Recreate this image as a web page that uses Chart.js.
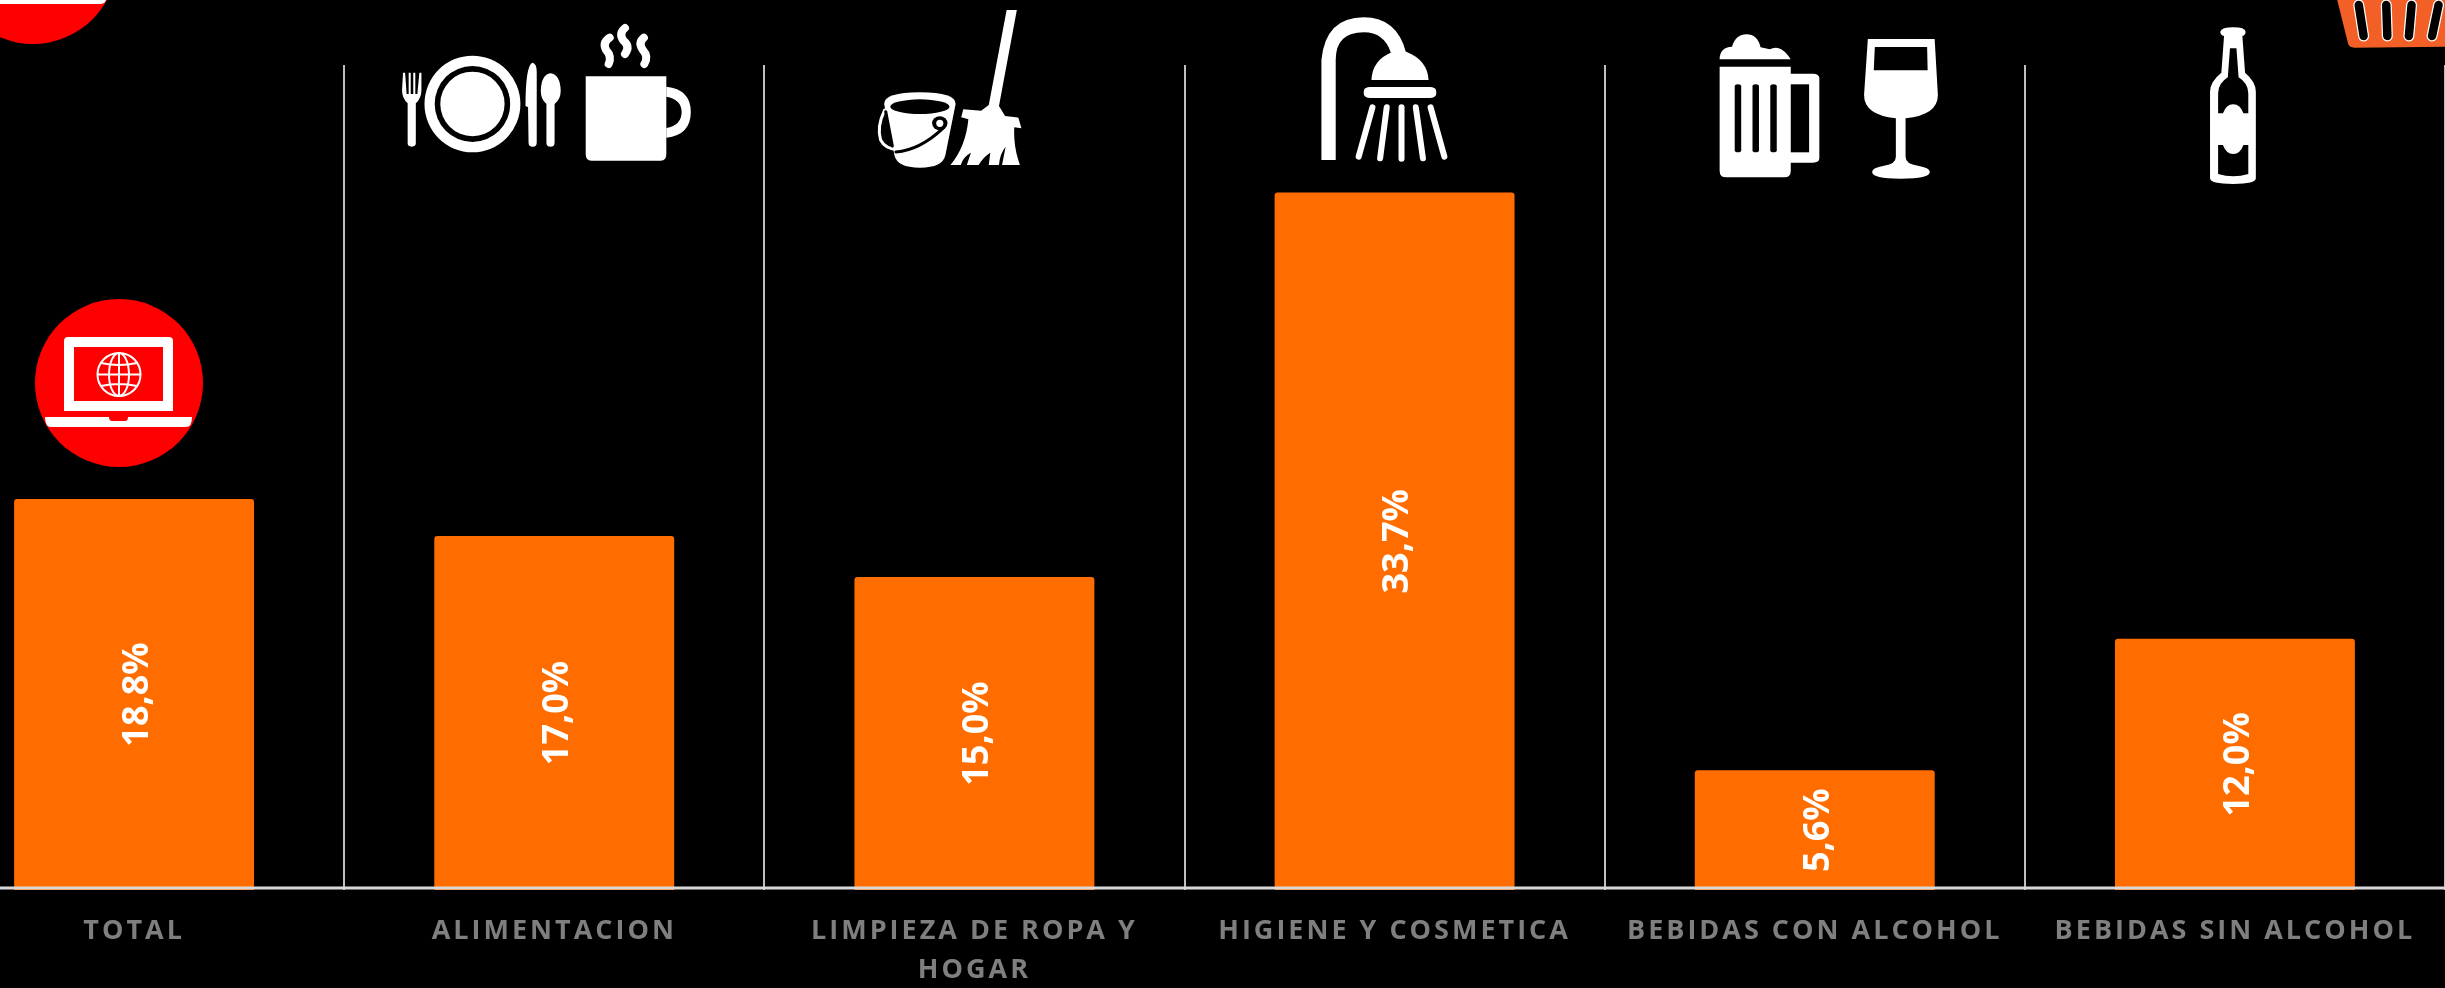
<!DOCTYPE html>
<html>
<head>
<meta charset="utf-8">
<title>Chart</title>
<script src="https://cdn.jsdelivr.net/npm/chart.js@4"></script>
<style>
  html, body { margin: 0; padding: 0; background: #000; width: 2445px; height: 988px; overflow: hidden; }
  #mycanvas { position: absolute; left: -76px; top: 0; }
  #icons { position: absolute; left: 0; top: 0; }
  #icons .line { fill: none; stroke-linecap: round; vector-effect: non-scaling-stroke; }
</style>
</head>
<body>
<canvas id="mycanvas" width="2521" height="988"></canvas>

<!-- decoration only, coordinates are taken from the zoomed crops -->
<svg id="icons" width="2445" height="988" xmlns="http://www.w3.org/2000/svg">
  <!-- red laptop badges -->
  <circle cx="33" cy="-40" r="84" fill="#ff0000"/>
  <path d="M-30 0H106Q105 4 100 4H-30Z" fill="#fff"/>
  <circle cx="119" cy="383" r="84" fill="#ff0000"/>
  <path fill-rule="evenodd" fill="#fff" d="M68 337H169Q173 337 173 341V411H64V341Q64 337 68 337ZM74 347V401H163V347Z"/>
  <path fill="#fff" d="M45 417H109Q109 421 112 421H125Q128 421 128 417H192Q192 427 186 427H51Q45 427 45 417Z"/>
  <g fill="none" stroke="#fff" stroke-width="2">
    <circle cx="119" cy="374.5" r="21.5"/>
    <ellipse cx="119" cy="374.5" rx="10" ry="21.5"/>
    <path d="M119 353V396M97.500 374.500H140.500M101 363Q119 367 137 363M101 386Q119 382 137 386"/>
  </g>

  <!-- cutlery and mug -->
  <g transform="scale(.5102 .3333)" fill="#fff">
    <path d="M790 218H794L797 282H801V218H805V282H810V218H814V282H818L822 218H826V270Q826 295 815 310L815 430Q815 440 807 440Q799 440 799 430L799 310Q788 295 788 270Z"/>
    <path fill-rule="evenodd" d="M926 167A94 145 0 1 1 926 457A94 145 0 1 1 926 167ZM926 198A74 114 0 1 0 926 426A74 114 0 1 0 926 198Z"/>
    <ellipse cx="926" cy="312" rx="63" ry="97"/>
    <path d="M1043 188Q1052 190 1052 215V428Q1052 440 1044 440Q1036 440 1036 428L1035 322L1030 318Q1030 200 1043 188Z"/>
    <path d="M1079 220Q1098 224 1099 272Q1099 298 1087 312V428Q1087 440 1079 440Q1071 440 1071 428V312Q1060 298 1060 272Q1061 224 1079 220Z"/>
    <path d="M1148 229H1306V462Q1306 482 1295 482H1159Q1148 482 1148 462Z"/>
    <path fill-rule="evenodd" d="M1306 260Q1354 268 1354 336Q1354 405 1306 413V384Q1336 376 1336 336Q1336 298 1306 290Z"/>
  </g>
  <g transform="scale(.5102 .3333)" stroke="#fff">
    <path class="line" stroke-width="8" d="M1195 113Q1180 128 1188 150Q1200 170 1193 192"/>
    <path class="line" stroke-width="8" d="M1225 84Q1212 100 1222 122Q1236 140 1225 162"/>
    <path class="line" stroke-width="8" d="M1262 113Q1250 128 1260 150Q1272 170 1263 192"/>
  </g>

  <!-- bucket and mop -->
  <g transform="translate(800,0) scale(.5102 .3333)">
    <path fill="#fff" d="M405 30H425L390 318L402 348L428 353L434 385L420 382Q418 440 431 495H396L403 440Q392 460 390 495H370L373 458Q360 470 350 495H327L335 458Q320 470 315 495H295Q325 440 330 358L316 352L320 328L355 332L370 315Z"/>
    <path fill="#fff" d="M165 312Q165 277 235 277Q305 277 305 312L285 465Q280 503 235 503Q190 503 185 465Z"/>
    <ellipse cx="235" cy="320" rx="58" ry="22" fill="#000"/>
    <path class="line" stroke="#fff" stroke-width="3" d="M166 330Q150 380 158 420Q168 450 195 448"/>
    <path class="line" stroke="#000" stroke-width="3" d="M168 335L181 438"/>
    <path class="line" stroke="#000" stroke-width="3" d="M188 456Q235 450 280 385"/>
    <ellipse cx="274" cy="370" rx="15" ry="21" fill="#000"/>
    <ellipse cx="274" cy="370" rx="7" ry="11" fill="#fff"/>
  </g>

  <!-- shower, crop 2 starts at x=800 -->
  <g transform="translate(800,0) scale(.5102 .3333)" fill="#fff">
    <path d="M1022 480V180Q1030 52 1105 52Q1170 52 1188 158L1158 158Q1145 97 1105 97Q1050 97 1050 180V480Z"/>
    <path d="M1120 240Q1122 180 1160 157L1174 152L1188 155Q1230 180 1232 240Z"/>
    <rect x="1105" y="261" width="142" height="33" rx="12" ry="12"/>
    <g stroke="#fff">
      <path class="line" stroke-width="6" d="M1122 322L1095 470"/>
      <path class="line" stroke-width="6" d="M1150 322L1137 475"/>
      <path class="line" stroke-width="6" d="M1179 322L1179 476"/>
      <path class="line" stroke-width="6" d="M1207 322L1221 475"/>
      <path class="line" stroke-width="6" d="M1236 322L1263 470"/>
    </g>
  </g>

  <!-- beer, wine, bottle, basket -->
  <g transform="translate(1600,0) scale(.5389 .3333)" fill="#fff">
    <path d="M222 178Q222 142 245 140Q252 103 272 103Q292 103 298 142L315 148Q335 130 354 178Z"/>
    <path d="M222 200H354V221H395Q407 221 407 235V475Q407 488 395 488H354V512Q354 532 342 532H234Q222 532 222 512Z"/>
    <g fill="#000">
      <rect x="250" y="253" width="12" height="204" rx="6" ry="6"/>
      <rect x="283" y="253" width="12" height="204" rx="6" ry="6"/>
      <rect x="316" y="253" width="12" height="204" rx="6" ry="6"/>
      <rect x="354" y="253" width="34" height="204"/>
    </g>
    <path d="M497 117H621L627 285Q627 345 567 355V470Q567 492 590 497Q612 503 612 516Q612 536 558 536Q505 536 505 516Q505 503 527 497Q549 492 549 470V355Q490 345 490 285Z"/>
    <path fill="#000" d="M510 141H607L608 211H508Z"/>
    <path d="M1158 108Q1151 105 1151 95Q1153 82 1175 82Q1197 82 1198 95Q1198 105 1192 108L1197 218Q1217 245 1217 275V535Q1217 552 1175 552Q1132 552 1132 535V275Q1132 245 1153 218Z"/>
    <path fill="#000" d="M1169 145H1181L1185 232Q1203 250 1203 280V340H1194Q1188 313 1175 313Q1162 313 1156 340H1147V280Q1147 250 1165 232Z"/>
    <path fill="#000" d="M1147 435H1156Q1162 462 1175 462Q1188 462 1194 435H1203V522Q1175 535 1147 522Z"/>
    <path fill="#f26027" d="M1368 0H1568V140L1400 143Q1390 143 1388 130Z"/>
    <g stroke="#fff">
      <path class="line" stroke-width="11" d="M1408 15L1417 108"/>
      <path class="line" stroke-width="11" d="M1459 15L1461 108"/>
      <path class="line" stroke-width="11" d="M1506 15L1501 108"/>
      <path class="line" stroke-width="11" d="M1556 15L1544 108"/>
    </g>
    <g stroke="#000">
      <path class="line" stroke-width="8.500" d="M1408 15L1417 108"/>
      <path class="line" stroke-width="8.500" d="M1459 15L1461 108"/>
      <path class="line" stroke-width="8.500" d="M1506 15L1501 108"/>
      <path class="line" stroke-width="8.500" d="M1556 15L1544 108"/>
    </g>
  </g>
</svg>

<script>
var categories = ['TOTAL', 'ALIMENTACION', ['LIMPIEZA DE ROPA Y', 'HOGAR'], 'HIGIENE Y COSMETICA', 'BEBIDAS CON ALCOHOL', 'BEBIDAS SIN ALCOHOL'];
var values = [18.8, 17.0, 15.0, 33.7, 5.6, 12.0];

// the bars start a little under zero in the original
var axisMin = -0.22;
var axisMax = 39.9;

var barColor = '#ff6d00';
var labelColor = '#7f7f7f';
var dividerColor = '#bfbfbf';
var baselineColor = '#d9d9d9';

// letter spacing for the axis text, the library has no option for it
var spacing = {
  id: 'spacing',
  beforeDraw: function(chart){
    chart.ctx.letterSpacing = '3px';
  }
};

// percentages written sideways in the middle of each bar
var barText = {
  id: 'barText',
  afterDatasetsDraw: function(chart){
    var ctx = chart.ctx;
    var bars = chart.getDatasetMeta(0).data;
    ctx.save();
    ctx.letterSpacing = '0px';
    ctx.font = 'bold 36px "Open Sans"';
    ctx.fillStyle = '#fff';
    ctx.textAlign = 'center';
    ctx.textBaseline = 'middle';
    for(var i in bars){
      var p = bars[i].getProps(['x', 'y', 'base'], true);
      ctx.save();
      ctx.translate(p.x, (p.y + p.base) / 2);
      ctx.rotate(-Math.PI / 2);
      ctx.fillText(values[i].toFixed(1).replace('.', ',') + '%', 0, 3.5);
      ctx.restore();
    }
    ctx.restore();
  }
};

// the axis line sits slightly above the foot of the bars
var baseline = {
  id: 'baseline',
  afterDatasetsDraw: function(chart){
    var ctx = chart.ctx;
    var y = chart.scales.y.getPixelForValue(axisMin) - 2;
    ctx.save();
    ctx.strokeStyle = baselineColor;
    ctx.lineWidth = 3;
    ctx.beginPath();
    ctx.moveTo(0, y);
    ctx.lineTo(chart.width, y);
    ctx.stroke();
    ctx.restore();
  }
};

var chartdata = {
  labels: categories,
  datasets: [
    {
      label: 'Share',
      backgroundColor: barColor,
      base: axisMin,
      borderRadius: 3,
      borderSkipped: 'bottom',
      barPercentage: 1,
      categoryPercentage: 0.571,
      data: values
    }
  ]
};

var ctx = document.getElementById('mycanvas');

var barGraph = new Chart(ctx, {
  type: 'bar',
  data: chartdata,
  plugins: [spacing, baseline, barText],
  options: {
    responsive: false,
    animation: false,
    layout: { padding: { top: 65, left: 0, right: 0, bottom: 0 } },
    plugins: { legend: { display: false }, tooltip: { enabled: false } },
    scales: {
      x: {
        afterFit: function(scale){ scale.height = 98; },
        border: { display: false },
        grid: { color: dividerColor, lineWidth: 2, drawTicks: false, tickLength: 0 },
        ticks: {
          color: labelColor,
          autoSkip: false,
          maxRotation: 0,
          minRotation: 0,
          padding: 22,
          font: { family: '"Open Sans"', weight: 'bold', size: 27, lineHeight: 1.44 }
        }
      },
      y: {
        display: false,
        min: axisMin,
        max: axisMax
      }
    }
  }
});
</script>
</body>
</html>
